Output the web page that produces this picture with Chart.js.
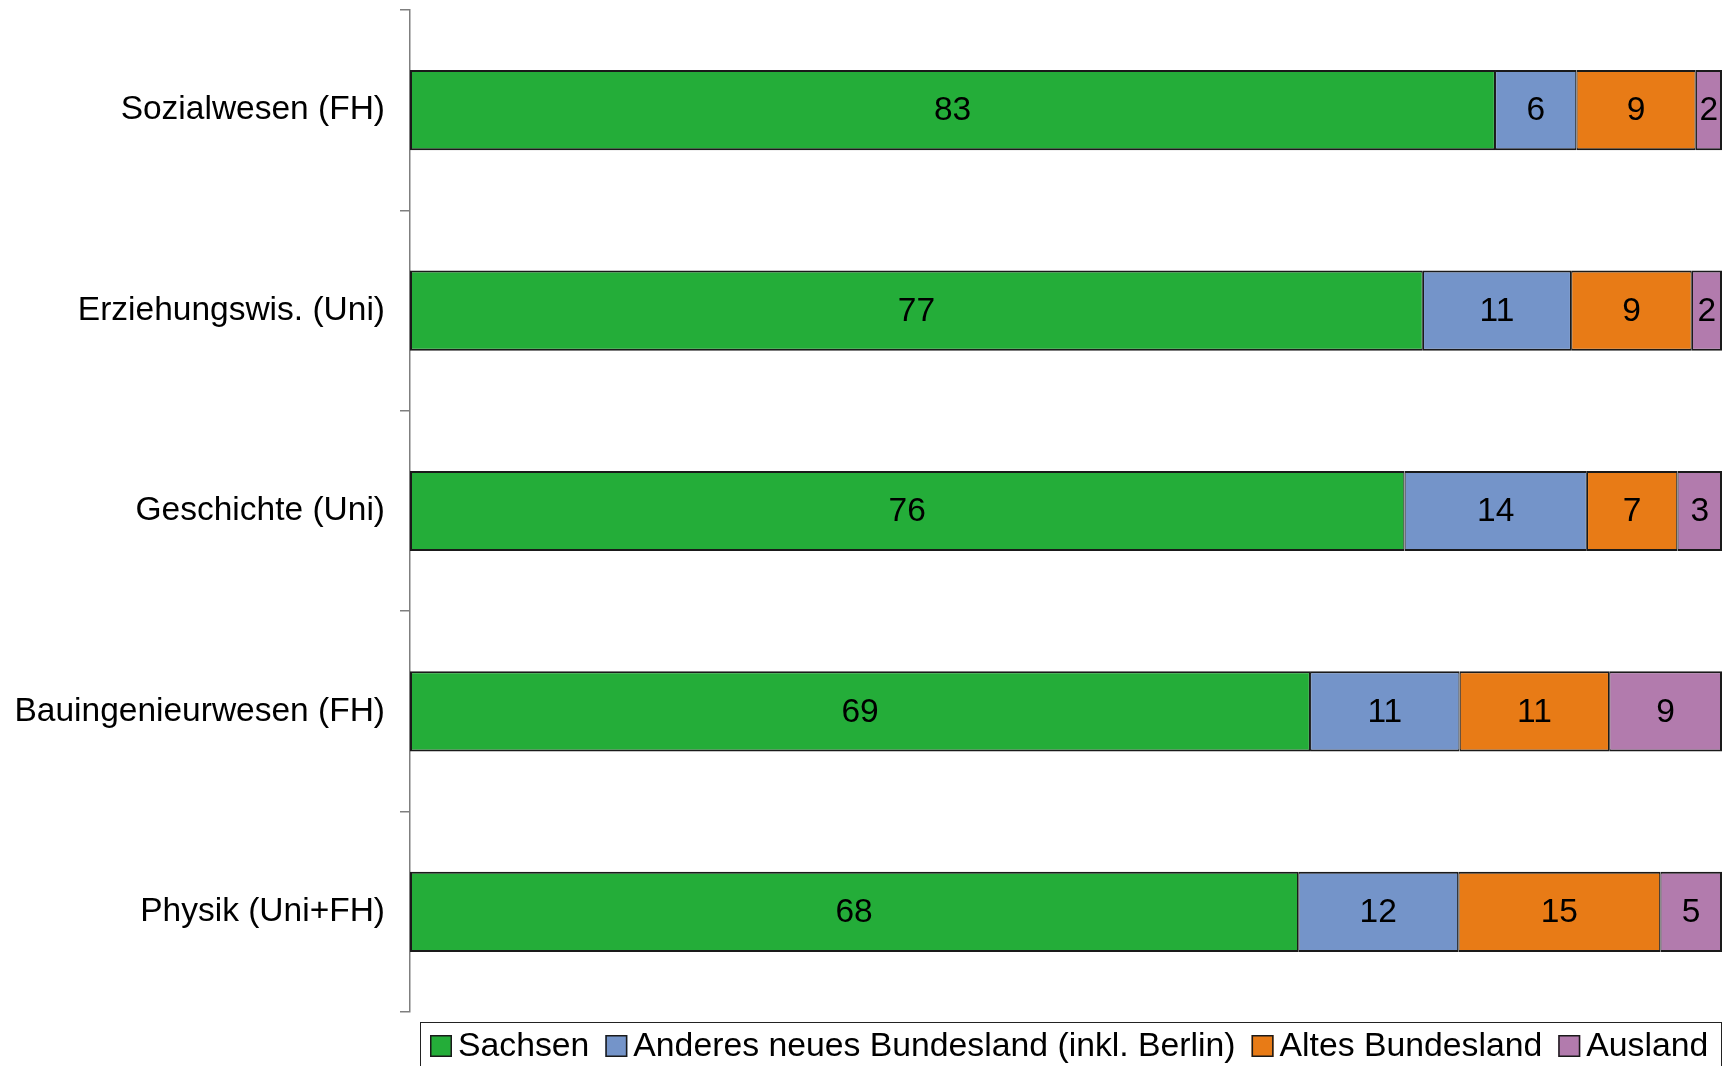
<!DOCTYPE html>
<html>
<head>
<meta charset="utf-8">
<script src="https://cdn.jsdelivr.net/npm/chart.js@4/dist/chart.umd.min.js"></script>
<style>
  html, body { margin: 0; padding: 0; background: #ffffff; }
  #wrap { position: relative; width: 1727px; height: 1066px; }
</style>
</head>
<body>
<div id="wrap"><canvas id="c"></canvas></div>
<script>
// ---- data (percent shares) ----
const categories = ["Sozialwesen (FH)", "Erziehungswis. (Uni)", "Geschichte (Uni)", "Bauingenieurwesen (FH)", "Physik (Uni+FH)"];
const seriesNames = ["Sachsen", "Anderes neues Bundesland (inkl. Berlin)", "Altes Bundesland", "Ausland"];
const sachsen = [82.7, 77.2, 75.8, 68.6, 67.7];
const anderesNeues = [6.2, 11.3, 13.9, 11.4, 12.2];
const altesBundesland = [9.1, 9.2, 6.9, 11.4, 15.4];
const ausland = [2.0, 2.3, 3.4, 8.6, 4.7];
const seriesColors = ["#24ad39", "#7494c9", "#e87b16", "#b27bad"];

const FONT = '"Liberation Sans", Arial, Helvetica, sans-serif';
const FSIZE = 33.5;
const LEGEND_FSIZE = 33.75;
const EDGE = "#1a1a1a";

const seriesValues = [sachsen, anderesNeues, altesBundesland, ausland];
const datasets = seriesValues.map((vals, i) => ({
  label: seriesNames[i],
  data: vals,
  backgroundColor: seriesColors[i],
  borderColor: EDGE,
  borderWidth: {
    top: 2, bottom: 2,
    left: i === 0 ? 2 : 1.2,
    right: i === seriesValues.length - 1 ? 2 : 1.2
  },
  borderSkipped: false,
  barPercentage: 0.4,
  categoryPercentage: 1.0
}));

const valueLabels = {
  id: "valueLabels",
  afterDatasetsDraw(chart) {
    const ctx = chart.ctx;
    ctx.save();
    ctx.font = FSIZE + "px " + FONT;
    ctx.fillStyle = "#000000";
    ctx.textAlign = "center";
    ctx.textBaseline = "middle";
    chart.data.datasets.forEach((ds, di) => {
      const meta = chart.getDatasetMeta(di);
      meta.data.forEach((el, j) => {
        const p = el.getProps(["x", "y", "base"], true);
        const cx = (p.x + p.base) / 2;
        ctx.fillText(String(Math.round(ds.data[j])), cx, p.y + 1);
      });
    });
    ctx.restore();
  }
};

const boxLegend = {
  id: "boxLegend",
  afterDraw(chart) {
    const ctx = chart.ctx;
    ctx.save();
    ctx.strokeStyle = "#222222";
    ctx.lineWidth = 1;
    ctx.strokeRect(420.5, 1022.5, 1301, 60);
    ctx.font = LEGEND_FSIZE + "px " + FONT;
    ctx.textAlign = "left";
    ctx.textBaseline = "middle";
    let x = 430;
    const cy = 1046;
    chart.data.datasets.forEach((ds) => {
      ctx.fillStyle = ds.backgroundColor;
      ctx.fillRect(x, cy - 11, 22, 22);
      ctx.strokeStyle = EDGE;
      ctx.lineWidth = 1.5;
      ctx.strokeRect(x + 0.75, cy - 10.25, 20.5, 20.5);
      ctx.fillStyle = "#000000";
      ctx.fillText(ds.label, x + 28, cy + 1);
      x += 28 + ctx.measureText(ds.label).width + 16;
    });
    ctx.restore();
  }
};

new Chart(document.getElementById("c"), {
  type: "bar",
  data: { labels: categories, datasets: datasets },
  plugins: [valueLabels, boxLegend],
  options: {
    indexAxis: "y",
    responsive: true,
    maintainAspectRatio: false,
    animation: false,
    layout: { padding: { left: 0, right: 5, top: 10, bottom: 54 } },
    plugins: {
      legend: { display: false },
      tooltip: { enabled: false }
    },
    scales: {
      x: {
        stacked: true,
        min: 0,
        max: 100,
        display: false
      },
      y: {
        stacked: true,
        afterFit(scale) {
          scale.width = 410;
          scale.paddingTop = 0;
          scale.paddingBottom = 0;
        },
        border: { display: true, color: "#7f7f7f", width: 1.5 },
        grid: {
          offset: true,
          drawOnChartArea: false,
          drawTicks: true,
          tickLength: 10,
          color: "#7f7f7f",
          lineWidth: 1.5
        },
        ticks: {
          padding: 15,
          color: "#000000",
          font: { family: FONT, size: FSIZE }
        }
      }
    }
  }
});
</script>
</body>
</html>
